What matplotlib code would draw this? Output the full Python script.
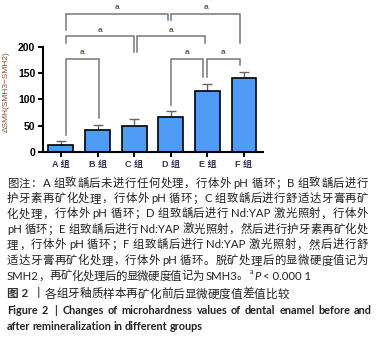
import re
import matplotlib
matplotlib.use("Agg")
import matplotlib.pyplot as plt

plt.rcParams['font.family'] = ['Liberation Sans', 'Noto Sans CJK SC']

# data
groups = ["A 组", "B 组", "C 组", "D 组", "E 组", "F 组"]
delta_smh = [13, 42, 49, 67, 116, 141]
delta_err = [7, 10, 14, 10, 14, 11]
y_ticks = [0, 50, 100, 150, 200]

# significance brackets: left x, right x, top, left leg end, right leg end
brackets = [
    (0.14, 1.04, 177, 32, 64),
    (3.00, 3.87, 177, 89, 142),
    (3.98, 4.89, 177, 142, 165),
    (0.14, 2.00, 220, 207, 190),
    (2.09, 3.93, 220, 190, 207),
    (0.14, 2.92, 262, 231, 250),
    (3.02, 4.89, 262, 250, 207),
]
bracket_labels = ["a"] * len(brackets)

caption_lines = [
    "图注：A 组致龋后未进行任何处理，行体外 pH 循环；B 组致龋后进行",
    "护牙素再矿化处理，行体外 pH 循环；C 组致龋后进行舒适达牙膏再矿",
    "化处理，行体外 pH 循环；D 组致龋后进行 Nd:YAP 激光照射，行体外",
    "pH 循环；E 组致龋后进行 Nd:YAP 激光照射，然后进行护牙素再矿化处",
    "理，行体外 pH 循环；F 组致龋后进行 Nd:YAP 激光照射，然后进行舒",
    "适达牙膏再矿化处理，行体外 pH 循环。脱矿处理后的显微硬度值记为",
]
caption_last = "SMH2，再矿化处理后的显微硬度值记为 SMH3。"
p_value = "< 0.000 1"
title_cn = "丨各组牙釉质样本再矿化前后显微硬度值差值比较"
title_en = ["Figure 2  |  Changes of microhardness values of dental enamel before and",
            "after remineralization in different groups"]

W, H = 383, 345
fig = plt.figure(figsize=(W / 100, H / 100), dpi=100)
ax = fig.add_axes([43 / W, 1 - 152 / H, 220 / W, 105.3 / H])

x = list(range(len(groups)))
ax.bar(x, delta_smh, width=0.68, color="#4f9cf7", edgecolor="black", linewidth=1.2, zorder=2)
ax.errorbar(x, delta_smh, yerr=[[0] * len(x), delta_err], fmt="none", ecolor="#666666",
            elinewidth=1.0, capsize=3.5, capthick=1.0, zorder=1)

for (x1, x2, top, l1, l2), lab in zip(brackets, bracket_labels):
    ax.plot([x1, x1, x2, x2], [l1, top, top, l2], color="#777777", lw=1.1,
            clip_on=False, solid_joinstyle="miter")
    ax.text((x1 + x2) / 2, top + 5, lab, ha="center", va="bottom", fontsize=6,
            fontweight="bold", color="#7a5a40", clip_on=False)

ax.set_xlim(-0.49, 5.52)
ax.set_ylim(0, 200)
ax.set_yticks(y_ticks)
ax.set_xticks(x)
ax.set_xticklabels(groups, fontsize=6.5, fontweight="bold", color="#333355")
for t in ax.get_yticklabels():
    t.set_fontsize(7.5)
    t.set_fontweight("bold")
ax.tick_params(axis="both", width=1.4, length=3.5, pad=2)
for s in ["top", "right"]:
    ax.spines[s].set_visible(False)
for s in ["left", "bottom"]:
    ax.spines[s].set_linewidth(1.5)
ax.set_ylabel("ΔSMH(SMH3−SMH2)", fontsize=6, color="#8a5030")
ax.yaxis.set_label_coords(-0.15, 0.57)

renderer = fig.canvas.get_renderer()
cap_font = ['Lato', 'Noto Sans CJK SC']


def place_line(line, y, x0, x1, size, weight="normal", justify=True, words=False):
    """draw a line token by token, spreading spare room evenly between tokens"""
    if words:
        tokens = re.findall(r"\S+| ", line)
    else:
        tokens = re.findall(r"[A-Za-z0-9.:<>]+| |.", line)
    space = size * 0.28
    items = []
    gap_before = 0.0
    for tok in tokens:
        if tok == " ":
            gap_before += space
            continue
        t = fig.text(0, 1 - y / H, tok, fontsize=size, family=cap_font, fontweight=weight,
                     color="#222222", va="center", ha="left")
        w = t.get_window_extent(renderer).width
        items.append([t, w, gap_before])
        gap_before = 0.0
    total = sum(w + g for _, w, g in items[1:]) + items[0][1]
    extra = (x1 - x0 - total) / (len(items) - 1) if justify and len(items) > 1 else 0
    pos = x0
    for i, (t, w, g) in enumerate(items):
        if i > 0:
            pos += g + extra
        t.set_x(pos / W)
        pos += w
    return pos


for i, line in enumerate(caption_lines):
    place_line(line, 183 + i * 15.45, 7, 368, 8.2)
place_line(caption_last, 276, 7, 248, 8.2)
fig.text(250 / W, 1 - 272 / H, "a", fontsize=5, family=cap_font, color="#222222",
         va="center", ha="left")
fig.text(254 / W, 1 - 276 / H, "P", fontsize=8.2, family=cap_font, style="italic",
         color="#222222", va="center", ha="left")
fig.text(263 / W, 1 - 276 / H, p_value, fontsize=8.2, family=cap_font,
         color="#222222", va="center", ha="left")

fig.text(7 / W, 1 - 294 / H, "图 2", fontsize=8.4, family=cap_font, fontweight="bold",
         color="#333333", va="center", ha="left")
place_line(title_cn, 294, 33, 287, 8.4, justify=False)
place_line(title_en[0], 310.5, 7, 372, 7.85, weight="bold", words=True)
place_line(title_en[1], 326, 7, 204, 7.85, weight="bold", words=True, justify=False)

fig.savefig("out.png", dpi=100)
